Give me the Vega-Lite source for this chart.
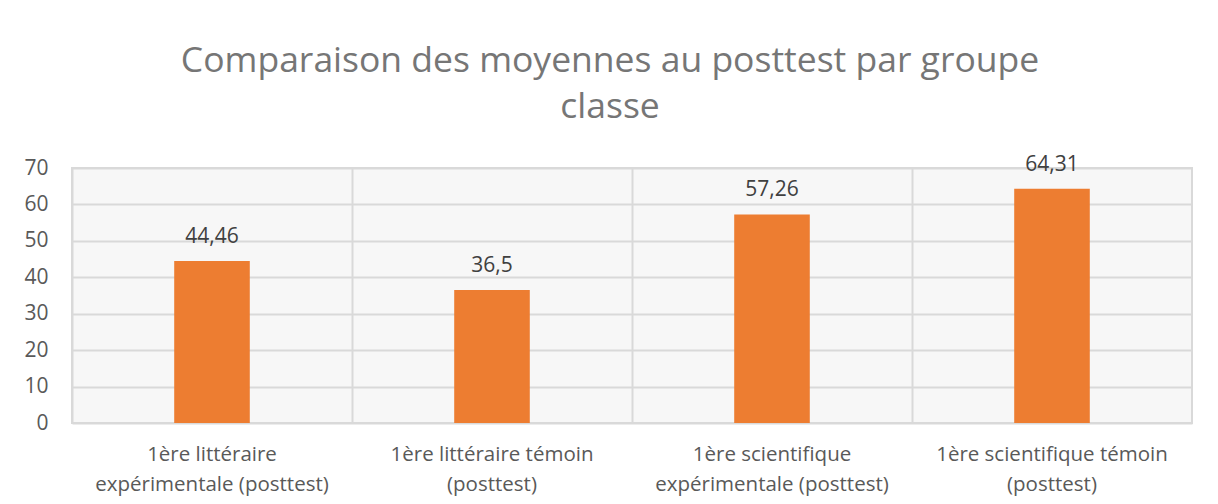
{
  "$schema": "https://vega.github.io/schema/vega-lite/v6.json",
  "width": 1120,
  "height": 255,
  "autosize": {"type": "none"},
  "padding": {"left": 72, "top": 168, "right": 26, "bottom": 81},
  "background": "white",
  "title": {
    "text": ["Comparaison des moyennes au posttest par groupe", "classe"],
    "font": "Open Sans",
    "fontSize": 35.5,
    "fontWeight": "normal",
    "color": "#767676",
    "lineHeight": 46,
    "anchor": "middle",
    "dx": -22,
    "offset": 28
  },
  "data": {
    "values": [
      {"groupe": "1ère littéraire expérimentale (posttest)", "moyenne": 44.46},
      {"groupe": "1ère littéraire témoin (posttest)", "moyenne": 36.5},
      {"groupe": "1ère scientifique expérimentale (posttest)", "moyenne": 57.26},
      {"groupe": "1ère scientifique témoin (posttest)", "moyenne": 64.31}
    ]
  },
  "encoding": {
    "x": {
      "field": "groupe",
      "type": "nominal",
      "sort": null,
      "scale": {"paddingInner": 0, "paddingOuter": 0},
      "axis": {
        "title": null,
        "labelAngle": 0,
        "domain": false,
        "ticks": false,
        "grid": true,
        "bandPosition": 0,
        "gridColor": "#d9d9d9",
        "gridWidth": 2,
        "labelFont": "Open Sans",
        "labelFontSize": 20.5,
        "labelColor": "#595959",
        "labelPadding": 21,
        "labelLineHeight": 30,
        "labelLimit": 400,
        "labelExpr": "indexof(datum.label,'expérimentale')>0 ? [substring(datum.label,0,indexof(datum.label,' expérimentale')), substring(datum.label,indexof(datum.label,'expérimentale'))] : [substring(datum.label,0,indexof(datum.label,' (posttest)')), '(posttest)']"
      }
    },
    "y": {
      "field": "moyenne",
      "type": "quantitative",
      "scale": {"domain": [0, 70], "nice": false},
      "axis": {
        "title": null,
        "values": [0, 10, 20, 30, 40, 50, 60, 70],
        "domain": false,
        "ticks": false,
        "gridColor": "#d9d9d9",
        "gridWidth": 2,
        "labelFont": "Open Sans",
        "labelFontSize": 21,
        "labelColor": "#595959",
        "labelPadding": 24
      }
    }
  },
  "layer": [
    {
      "mark": {"type": "bar", "color": "#ED7D31", "width": {"band": 0.27}}
    },
    {
      "mark": {"type": "text", "font": "Open Sans", "fontSize": 21, "color": "#404040", "baseline": "alphabetic", "dy": -18},
      "encoding": {
        "text": {"field": "moyenne", "type": "quantitative", "format": "~g"}
      }
    }
  ],
  "config": {
    "locale": {"number": {"decimal": ",", "thousands": " ", "grouping": [3], "currency": ["", " €"]}},
    "view": {"fill": "#f7f7f7", "stroke": "#d9d9d9", "strokeWidth": 2}
  }
}
